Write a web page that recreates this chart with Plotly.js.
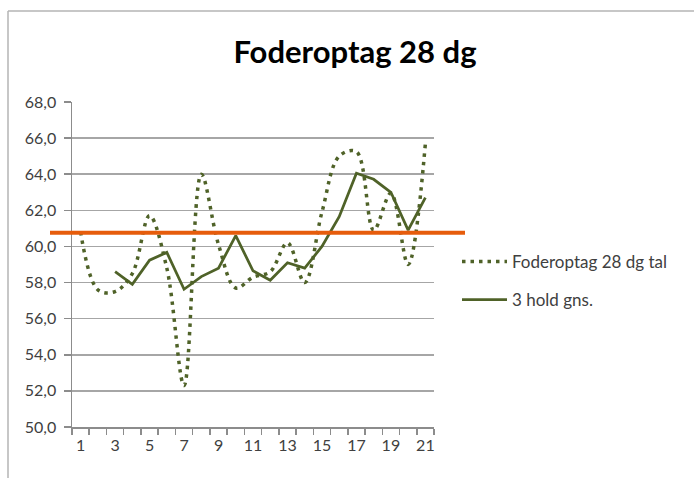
<!DOCTYPE html>
<html><head><meta charset="utf-8">
<script src="https://cdn.plot.ly/plotly-3.0.1.min.js"></script>
<style>html,body{margin:0;padding:0;background:#fff}#chart{width:694px;height:478px}</style>
</head><body><div id="chart"></div>
<script>
const categories = [1,2,3,4,5,6,7,8,9,10,11,12,13,14,15,16,17,18,19,20,21];
const tickLabels = ["1","3","5","7","9","11","13","15","17","19","21"];
const tickPositions = [1,3,5,7,9,11,13,15,17,19,21];
const foderoptag = [60.8,57.6,57.5,58.5,61.7,58.8,52.3,64.0,60.1,57.7,58.3,58.6,60.2,58.0,61.9,65.0,65.25,60.9,62.95,59.0,65.7];
const holdGns = [null,null,58.6,57.9,59.24,59.67,57.63,58.33,58.8,60.6,58.65,58.13,59.1,58.8,60.0,61.65,64.05,63.72,63.0,60.9,62.7];
const referenceLevel = 60.76;

const W = 694, H = 478, L = 72, R = 260, T = 102, B = 51;
const pw = W - L - R, ph = H - T - B;
const px = x => (x - L) / pw;
const py = y => (H - B - y) / ph;
const green = '#4f6228';
const font = 'Lato, "Open Sans", sans-serif';

const traces = [
  {x: categories, y: foderoptag, type: 'scatter', mode: 'lines', name: 'Foderoptag 28 dg tal',
   line: {color: green, width: 3.5, dash: '3.5px,5px', shape: 'spline', smoothing: 1}, legend: 'legend'},
  {x: categories, y: holdGns, type: 'scatter', mode: 'lines', name: '3 hold gns.',
   line: {color: green, width: 2.75}, legend: 'legend2'}
];

const layout = {
  width: W, height: H,
  margin: {l: L, r: R, t: T, b: B},
  paper_bgcolor: '#fff', plot_bgcolor: '#fff',
  separators: ',.',
  font: {family: font, size: 16, color: '#404040'},
  title: {text: 'Foderoptag 28 dg', font: {family: font, size: 31, color: '#000', weight: 'bold'},
          x: 355 / W, xref: 'container', xanchor: 'center', y: 1 - 52 / H, yanchor: 'middle'},
  xaxis: {range: [0.5, 21.5], tickmode: 'array', tickvals: tickPositions, ticktext: tickLabels,
          ticks: '', showgrid: false, zeroline: false, showline: true, linecolor: '#8c8c8c', linewidth: 1.5,
          tickfont: {family: font, size: 16, color: '#404040'}, ticklabelstandoff: 3,
          minor: {ticks: 'outside', tick0: 0.5, dtick: 1, ticklen: 6, tickcolor: '#8c8c8c', tickwidth: 1.5, showgrid: false},
          fixedrange: true},
  yaxis: {range: [50, 68], tickmode: 'linear', tick0: 50, dtick: 2, tickformat: '.1f',
          ticks: 'outside', ticklen: 7, tickcolor: '#8c8c8c', tickwidth: 1.5,
          showgrid: true, gridcolor: '#a6a6a6', gridwidth: 1.5, zeroline: false,
          showline: true, linecolor: '#8c8c8c', linewidth: 1.5, ticklabelstandoff: 4,
          tickfont: {family: font, size: 16, color: '#404040'}, fixedrange: true},
  showlegend: true,
  legend: {x: px(457), y: py(262), xanchor: 'left', yanchor: 'middle', bgcolor: 'rgba(0,0,0,0)',
           font: {family: font, size: 17, color: '#404040'}, itemwidth: 45},
  legend2: {x: px(457), y: py(300), xanchor: 'left', yanchor: 'middle', bgcolor: 'rgba(0,0,0,0)',
            font: {family: font, size: 17, color: '#404040'}, itemwidth: 45},
  shapes: [
    {type: 'line', xref: 'paper', yref: 'y', x0: px(50), x1: px(465), y0: referenceLevel, y1: referenceLevel,
     line: {color: '#e65c0c', width: 4}},
    {type: 'line', xref: 'paper', yref: 'paper', x0: px(8), x1: px(8), y0: py(11), y1: py(480),
     line: {color: '#b4b4b4', width: 1.5}},
    {type: 'line', xref: 'paper', yref: 'paper', x0: px(8), x1: px(700), y0: py(11), y1: py(11),
     line: {color: '#b4b4b4', width: 1.5}}
  ]
};

Plotly.newPlot('chart', traces, layout, {displayModeBar: false, staticPlot: true});
</script></body></html>
